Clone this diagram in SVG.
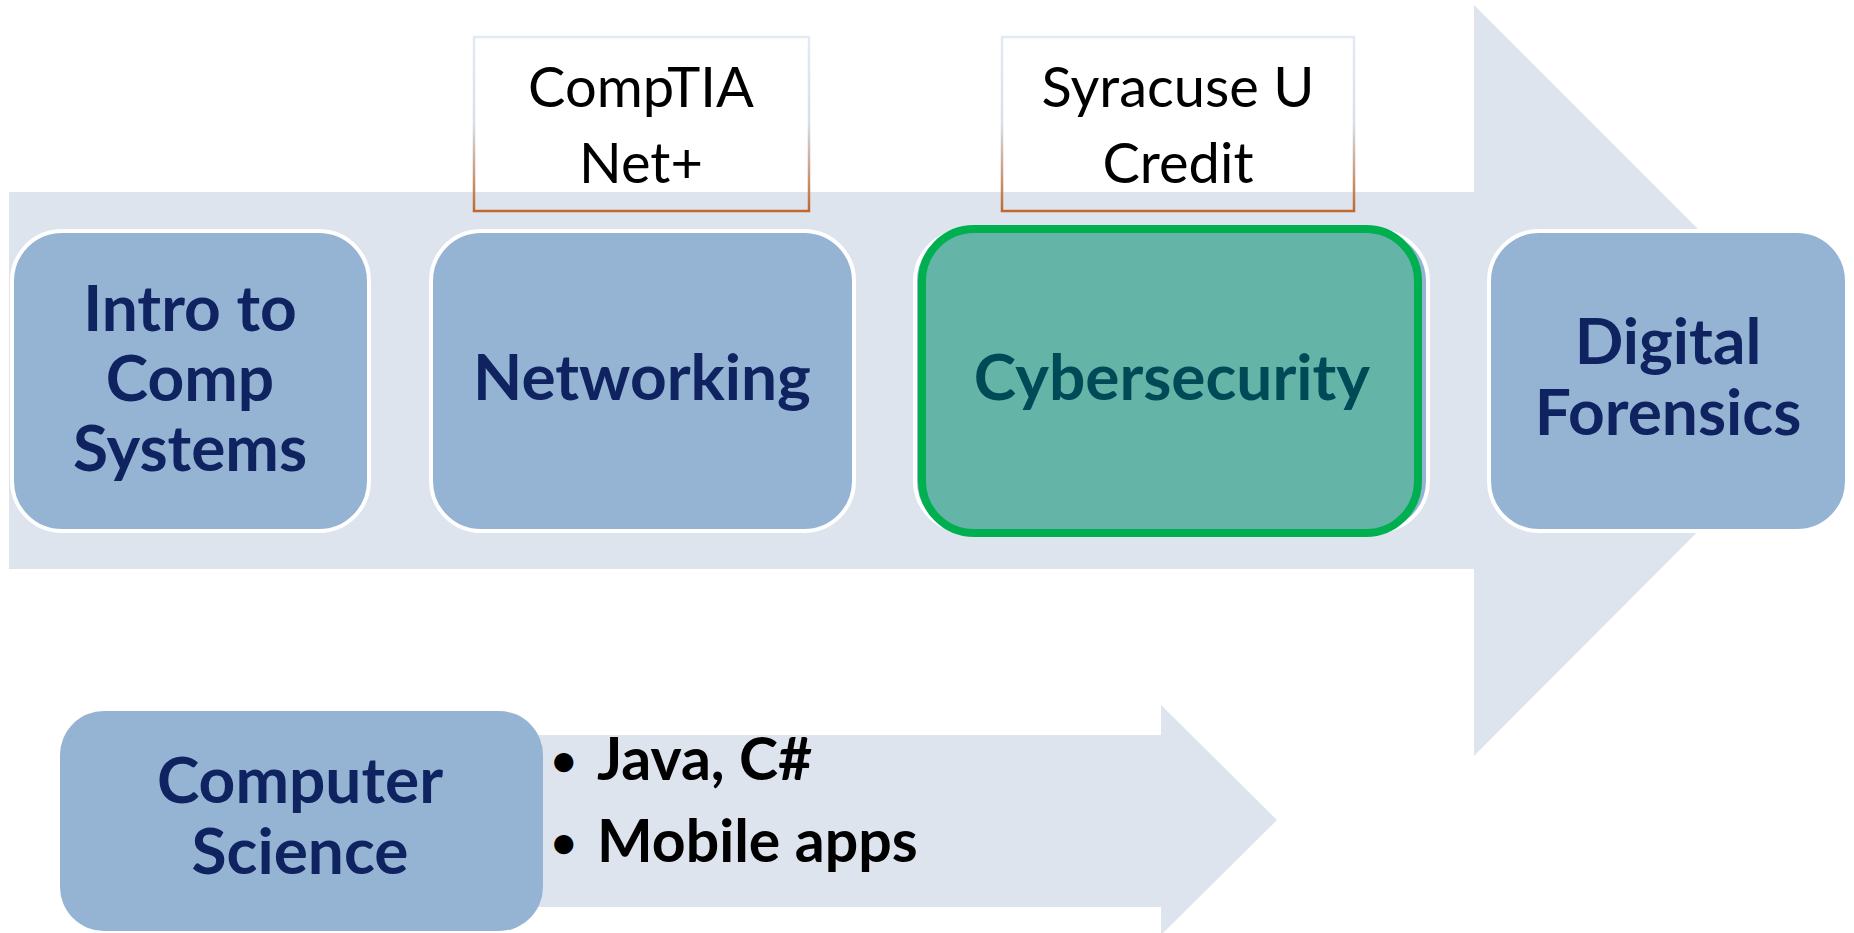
<svg xmlns="http://www.w3.org/2000/svg" width="1854" height="933" viewBox="0 0 1854 933">
<defs>
<linearGradient id="calloutStroke" x1="0" y1="0" x2="0" y2="1">
<stop offset="0" stop-color="#E2EAF6"/>
<stop offset="0.5" stop-color="#D6DEEB"/>
<stop offset="1" stop-color="#C2672F"/>
</linearGradient>
</defs>
<style>
.band{fill:#DDE4EE}
.box{fill:#95B4D3;stroke:#FFFFFF;stroke-width:4}
.lbl{font-family:Lato,"Liberation Sans",sans-serif;font-weight:bold;font-size:64px;fill:#0F2361;text-anchor:middle}
.call{fill:none;stroke:url(#calloutStroke);stroke-width:2.5}
.ctext{font-family:Lato,"Liberation Sans",sans-serif;font-size:56px;fill:#000000;text-anchor:middle}
.bul{font-family:Lato,"Liberation Sans",sans-serif;font-weight:bold;font-size:59px;fill:#000000}
.dot{font-family:Lato,"Liberation Sans",sans-serif;font-weight:bold;font-size:44px;fill:#000000}
</style>
<rect width="1854" height="933" fill="#FFFFFF"/>
<g id="arrows">
<path class="band" d="M9,192 L1474,192 L1474,5 L1849,380 L1474,756 L1474,569 L9,569 Z"/>
<path class="band" d="M460,735 L1161,735 L1161,705 L1277,820 L1161,935 L1161,907 L460,907 Z"/>
</g>
<g id="callout-comptia">
<rect class="call" x="474" y="37" width="335" height="174"/>
<text class="ctext" x="641" y="107">CompTIA</text>
<text class="ctext" x="641" y="183">Net+</text>
</g>
<g id="callout-syracuse">
<rect class="call" x="1002" y="37" width="352" height="174"/>
<text class="ctext" x="1178" y="107">Syracuse U</text>
<text class="ctext" x="1178" y="183">Credit</text>
</g>
<g id="node-intro">
<rect class="box" x="12" y="231" width="357" height="300" rx="50" ry="50"/>
<text class="lbl" x="190" y="331">Intro to</text>
<text class="lbl" x="190" y="401">Comp</text>
<text class="lbl" x="190" y="471">Systems</text>
</g>
<g id="node-networking">
<rect class="box" x="431" y="231" width="423" height="300" rx="50" ry="50"/>
<text class="lbl" x="642" y="400">Networking</text>
</g>
<g id="node-cybersecurity">
<rect class="box" x="915" y="231" width="513" height="300" rx="50" ry="50"/>
<rect x="922" y="229" width="496" height="304" rx="52" ry="52" fill="#64B4A8" stroke="#00B050" stroke-width="8"/>
<text class="lbl" x="1172" y="400" style="fill:#004A58">Cybersecurity</text>
</g>
<g id="node-forensics">
<rect class="box" x="1489" y="231" width="358" height="300" rx="50" ry="50"/>
<text class="lbl" x="1668" y="364">Digital</text>
<text class="lbl" x="1668" y="435">Forensics</text>
</g>
<g id="node-cs">
<rect x="60" y="711" width="483" height="220" rx="44" ry="44" fill="#95B4D3"/>
<text class="lbl" x="300" y="803">Computer</text>
<text class="lbl" x="300" y="874">Science</text>
</g>
<g id="cs-bullets">
<text class="dot" x="551" y="776">•</text>
<text class="bul" x="597" y="780">Java, C#</text>
<text class="dot" x="551" y="858">•</text>
<text class="bul" x="597" y="862">Mobile apps</text>
</g>
</svg>
